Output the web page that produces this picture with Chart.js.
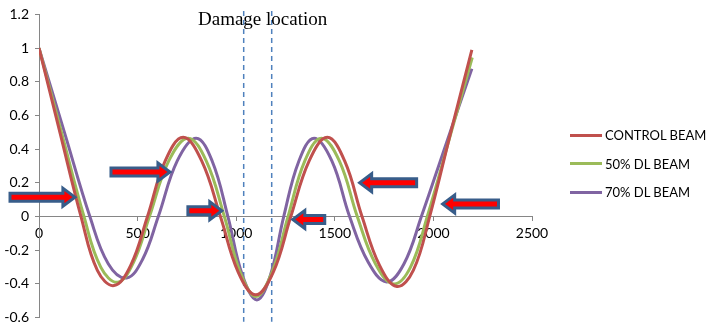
<!DOCTYPE html>
<html>
<head>
<meta charset="utf-8">
<script src="https://cdn.jsdelivr.net/npm/chart.js@4.4.1/dist/chart.umd.min.js"></script>
<style>
  html, body { margin: 0; padding: 0; background: #fff; }
  #wrap { position: relative; width: 718px; height: 332px; }
  #legend { position: absolute; left: 570px; top: 121px; font-family: Lato, "Open Sans", sans-serif; font-size: 13px; color: #000; }
  #legend div { height: 28.5px; display: flex; align-items: center; }
  #legend span.sw { display: inline-block; width: 32px; height: 3px; margin-right: 3px; }
</style>
</head>
<body>
<div id="wrap">
  <canvas id="grafico" width="718" height="332"></canvas>
  <div id="legend"></div>
</div>
<script>
// mode shape points (x, y)
const controlX = [0, 106, 213, 296, 380, 465, 550, 640, 731, 825, 920, 1010, 1099, 1188, 1277, 1370, 1462, 1550, 1638, 1727, 1815, 1898, 1981, 2088, 2195];
const controlY = [1.0, 0.5, 0, -0.32, -0.41, -0.29, 0, 0.33, 0.47, 0.33, 0, -0.33, -0.465, -0.33, 0, 0.33, 0.47, 0.33, 0, -0.29, -0.415, -0.32, 0, 0.5, 0.99];

const dl50X = [0, 114, 228, 313, 399, 480, 560, 658, 756, 848, 940, 1020, 1100, 1182, 1263, 1348, 1432, 1523, 1614, 1706, 1798, 1884, 1969, 2083, 2197];
const dl50Y = [1.0, 0.5, 0, -0.30, -0.39, -0.27, 0, 0.33, 0.465, 0.33, 0, -0.33, -0.475, -0.33, 0, 0.33, 0.465, 0.33, 0, -0.28, -0.40, -0.30, 0, 0.47, 0.944];

const dl70X = [0, 129, 258, 351, 444, 525, 605, 701, 797, 878, 958, 1032, 1105, 1173, 1241, 1318, 1395, 1485, 1575, 1669, 1763, 1851, 1939, 2067, 2195];
const dl70Y = [1.0, 0.5, 0, -0.28, -0.365, -0.255, 0, 0.33, 0.465, 0.33, 0, -0.35, -0.495, -0.35, 0, 0.33, 0.465, 0.33, 0, -0.27, -0.388, -0.28, 0, 0.44, 0.877];

const seriesNames = ["CONTROL BEAM", "50% DL BEAM", "70% DL BEAM"];
const seriesColors = ["#C0504D", "#9BBB59", "#8064A2"];

const xTicks = [0, 500, 1000, 1500, 2000, 2500];
const yTicks = [-0.6, -0.4, -0.2, 0, 0.2, 0.4, 0.6, 0.8, 1, 1.2];

// damage zone limits
const damageX = [1038, 1180];

// arrows: [tailX, tipX, y]
const arrows = [
  [-147, 182, 0.115],
  [365, 664, 0.264],
  [755, 927, 0.034],
  [1449, 1287, -0.017],
  [1915, 1626, 0.201],
  [2330, 2047, 0.075]
];

const toPts = (xs, ys) => xs.map((x, i) => ({ x: x, y: ys[i] }));

const datasets = [
  toPts(controlX, controlY),
  toPts(dl50X, dl50Y),
  toPts(dl70X, dl70Y)
].map((pts, i) => ({
  label: seriesNames[i],
  data: pts,
  borderColor: seriesColors[i],
  borderWidth: 3,
  pointRadius: 0,
  tension: 0.4,
  fill: false
}));

damageX.forEach(x => {
  datasets.push({
    label: '',
    data: [{ x: x, y: 1.22 }, { x: x, y: -0.625 }],
    borderColor: '#4F81BD',
    borderWidth: 1.5,
    borderDash: [5, 4],
    pointRadius: 0,
    clip: false
  });
});

const arrowPlugin = {
  id: 'flechas',
  afterDatasetsDraw(chart) {
    const c = chart.ctx;
    const sx = chart.scales.x, sy = chart.scales.y;
    arrows.forEach(a => {
      const x0 = sx.getPixelForValue(a[0]);
      const x1 = sx.getPixelForValue(a[1]);
      const yc = sy.getPixelForValue(a[2]);
      const dir = x1 > x0 ? 1 : -1;
      const headLen = 12, bodyH = 4, headH = 9;
      const xh = x1 - dir * headLen;
      c.save();
      c.beginPath();
      c.moveTo(x0, yc - bodyH);
      c.lineTo(xh, yc - bodyH);
      c.lineTo(xh, yc - headH);
      c.lineTo(x1, yc);
      c.lineTo(xh, yc + headH);
      c.lineTo(xh, yc + bodyH);
      c.lineTo(x0, yc + bodyH);
      c.closePath();
      c.fillStyle = '#FF0000';
      c.fill();
      c.lineWidth = 3;
      c.lineJoin = 'miter';
      c.strokeStyle = '#385D8A';
      c.stroke();
      c.restore();
    });
    // label
    c.save();
    c.font = '19px "Liberation Serif", serif';
    c.fillStyle = '#000';
    c.textBaseline = 'middle';
    c.fillText('Damage location', 198, 20);
    c.restore();
  }
};

const ctx = document.getElementById('grafico').getContext('2d');

new Chart(ctx, {
  type: 'line',
  data: { datasets: datasets },
  options: {
    responsive: false,
    animation: false,
    layout: { padding: { top: 7, right: 186, bottom: 11, left: 0 } },
    plugins: {
      legend: { display: false },
      tooltip: { enabled: false }
    },
    scales: {
      x: {
        type: 'linear',
        position: { y: 0 },
        min: 0,
        max: 2500,
        afterBuildTicks: s => { s.ticks = xTicks.map(v => ({ value: v })); },
        ticks: {
          color: '#000',
          font: { family: 'Lato', size: 14 },
          padding: 5,
          maxRotation: 0,
          callback: v => String(v)
        },
        grid: { display: true, drawOnChartArea: false, drawTicks: true, tickLength: 4, color: '#868686' },
        border: { display: true, color: '#868686', width: 1 }
      },
      y: {
        type: 'linear',
        min: -0.6,
        max: 1.2,
        afterBuildTicks: s => { s.ticks = yTicks.map(v => ({ value: v })); },
        afterFit: s => { s.width = 39; },
        ticks: {
          color: '#000',
          font: { family: 'Lato', size: 14 },
          padding: 6,
          callback: v => String(Math.round(v * 10) / 10)
        },
        grid: { display: true, drawOnChartArea: false, drawTicks: true, tickLength: 4, color: '#868686' },
        border: { display: true, color: '#868686', width: 1 }
      }
    }
  },
  plugins: [arrowPlugin]
});

// legend
const leg = document.getElementById('legend');
seriesNames.forEach((n, i) => {
  const row = document.createElement('div');
  row.innerHTML = '<span class="sw" style="background:' + seriesColors[i] + '"></span>' + n;
  leg.appendChild(row);
});
</script>
</body>
</html>
